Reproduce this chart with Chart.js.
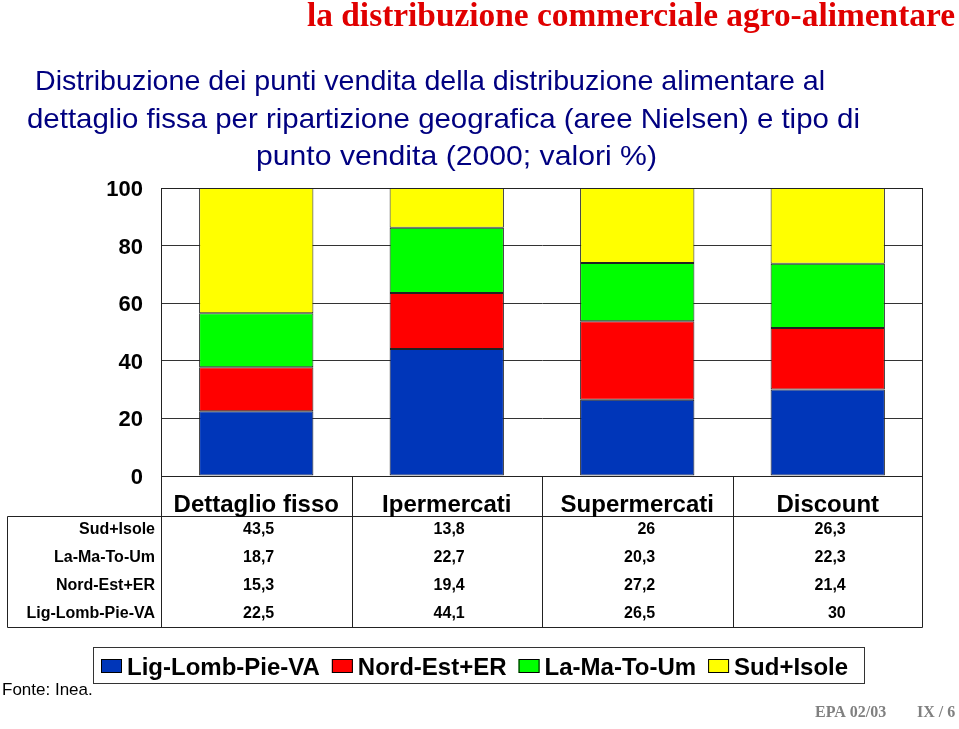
<!DOCTYPE html>
<html>
<head>
<meta charset="utf-8">
<script src="https://cdn.jsdelivr.net/npm/chart.js@4.4.1/dist/chart.umd.min.js"></script>
<style>
html,body{margin:0;padding:0;background:#fff;}
canvas{display:block;}
</style>
</head>
<body>
<canvas id="c" width="959" height="729"></canvas>
<script>
// ---- data ----
const categories = ['Dettaglio fisso', 'Ipermercati', 'Supermercati', 'Discount'];
const seriesNames = ['Lig-Lomb-Pie-VA', 'Nord-Est+ER', 'La-Ma-To-Um', 'Sud+Isole'];
const ligLombPieVA = [22.5, 44.1, 26.5, 30];
const nordEstER = [15.3, 19.4, 27.2, 21.4];
const laMaToUm = [18.7, 22.7, 20.3, 22.3];
const sudIsole = [43.5, 13.8, 26, 26.3];
const yTicks = [0, 20, 40, 60, 80, 100];
const titleText = 'la distribuzione commerciale agro-alimentare';
const subtitleLines = [
  'Distribuzione dei punti vendita della distribuzione alimentare al',
  'dettaglio fissa per ripartizione geografica (aree Nielsen) e tipo di',
  'punto vendita (2000; valori %)'
];
const sourceText = 'Fonte: Inea.';
const footerLeft = 'EPA 02/03';
const footerRight = 'IX / 6';

const seriesValues = [ligLombPieVA, nordEstER, laMaToUm, sudIsole];
const seriesColors = ['#0036b9', '#ff0000', '#00ff00', '#ffff00'];

const SANS = 'Arial, "Liberation Sans", sans-serif';
const SERIF = '"Times New Roman", "Liberation Serif", serif';
Chart.defaults.font.family = SANS;

const fmt = v => String(v).replace('.', ',');

function fitText(ctx, text, x, y, w, align) {
  const m = ctx.measureText(text).width;
  ctx.save();
  ctx.translate(x, y);
  ctx.scale(w / m, 1);
  ctx.textAlign = align;
  ctx.fillText(text, 0, 0);
  ctx.restore();
}

const bgPlugin = {
  id: 'bg',
  beforeDraw(chart) {
    const ctx = chart.ctx;
    ctx.save();
    ctx.fillStyle = '#fff';
    ctx.fillRect(0, 0, chart.width, chart.height);
    ctx.restore();
  }
};

const decorPlugin = {
  id: 'decor',
  afterDraw(chart) {
    const ctx = chart.ctx;
    const a = chart.chartArea;
    const xs = chart.scales.x;
    ctx.save();

    // plot frame
    ctx.strokeStyle = '#222';
    ctx.lineWidth = 1;
    ctx.strokeRect(Math.round(a.left) + 0.5, Math.round(a.top) + 0.5,
      Math.round(a.right - a.left) - 1, Math.round(a.bottom - a.top));

    // title
    ctx.fillStyle = '#e00000';
    ctx.font = 'bold 33px ' + SERIF;
    ctx.textBaseline = 'alphabetic';
    fitText(ctx, titleText, 631, 26, 648, 'center');

    // subtitle
    ctx.fillStyle = '#000080';
    ctx.font = '28px ' + SANS;
    ctx.textBaseline = 'alphabetic';
    const subPos = [[430, 90, 790], [443.5, 128, 833], [456.5, 165, 401]];
    subtitleLines.forEach((t, i) => fitText(ctx, t, subPos[i][0], subPos[i][1], subPos[i][2], 'center'));

    // data table
    const colW = (a.right - a.left) / categories.length;
    const tableLeft = 7.5;
    const headBottom = 516.5;
    const tableBottom = 627.5;
    const right = Math.round(a.right) - 0.5;
    ctx.strokeStyle = '#222';
    ctx.beginPath();
    for (let i = 0; i <= categories.length; i++) {
      const x = Math.round(a.left + i * colW) + 0.5 - (i === categories.length ? 1 : 0);
      ctx.moveTo(x, a.bottom);
      ctx.lineTo(x, tableBottom);
    }
    ctx.moveTo(tableLeft, headBottom); ctx.lineTo(right, headBottom);
    ctx.moveTo(tableLeft, tableBottom); ctx.lineTo(right, tableBottom);
    ctx.moveTo(tableLeft, headBottom); ctx.lineTo(tableLeft, tableBottom);
    ctx.stroke();

    ctx.fillStyle = '#000';
    ctx.font = 'bold 24px ' + SANS;
    ctx.textBaseline = 'alphabetic';
    ctx.textAlign = 'center';
    categories.forEach((c, i) => {
      ctx.fillText(c, xs.getPixelForValue(i), 512);
    });

    ctx.font = 'bold 16px ' + SANS;
    ctx.textBaseline = 'middle';
    for (let r = 0; r < seriesNames.length; r++) {
      const si = seriesNames.length - 1 - r;
      const y = 530 + r * 27.7;
      ctx.textAlign = 'right';
      ctx.fillText(seriesNames[si], 155, y);
      seriesValues[si].forEach((v, i) => {
        ctx.fillText(fmt(v), xs.getPixelForValue(i) + 18, y);
      });
    }

    // legend
    ctx.strokeStyle = '#333';
    ctx.strokeRect(93.5, 647.5, 771, 36);
    ctx.font = 'bold 24px ' + SANS;
    ctx.textBaseline = 'alphabetic';
    ctx.textAlign = 'left';
    let lx = 101;
    seriesNames.forEach((n, i) => {
      ctx.fillStyle = seriesColors[i];
      ctx.fillRect(lx, 659, 21, 14);
      ctx.strokeStyle = '#000';
      ctx.strokeRect(lx + 0.5, 659.5, 20, 13);
      ctx.fillStyle = '#000';
      ctx.fillText(n, lx + 26, 675);
      lx += 26 + ctx.measureText(n).width + 12;
    });

    // source + footer
    ctx.font = '17px ' + SANS;
    ctx.fillStyle = '#000';
    ctx.fillText(sourceText, 2, 695);
    ctx.font = 'bold 16px ' + SERIF;
    ctx.fillStyle = '#808080';
    ctx.fillText(footerLeft, 815, 717);
    ctx.fillText(footerRight, 917, 717);

    ctx.restore();
  }
};

new Chart(document.getElementById('c'), {
  type: 'bar',
  data: {
    labels: categories,
    datasets: seriesNames.map((n, i) => ({
      label: n,
      data: seriesValues[i],
      backgroundColor: seriesColors[i],
      borderColor: '#222',
      borderWidth: 1,
      borderSkipped: false,
      barPercentage: 0.6,
      categoryPercentage: 1.0
    }))
  },
  options: {
    responsive: false,
    animation: false,
    devicePixelRatio: 1,
    layout: { padding: { top: 188, right: 36, bottom: 253, left: 0 } },
    plugins: { legend: { display: false }, tooltip: { enabled: false } },
    scales: {
      x: { stacked: true, display: false },
      y: {
        stacked: true,
        min: 0,
        max: 100,
        afterFit(s) { s.width = 161; },
        afterBuildTicks(s) { s.ticks = yTicks.map(v => ({ value: v })); },
        ticks: { font: { size: 22, weight: 'bold' }, color: '#000', padding: 18, labelOffset: 2 },
        grid: { color: '#333', drawTicks: false },
        border: { display: true, color: '#222' }
      }
    }
  },
  plugins: [bgPlugin, decorPlugin]
});
</script>
</body>
</html>
